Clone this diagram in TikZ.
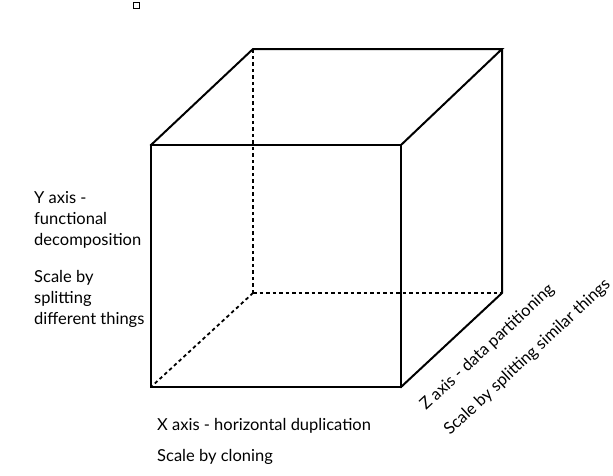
\documentclass[tikz,border=0pt]{standalone}
\usepackage{fontspec}
\setmainfont{Lato}
\begin{document}
\begin{tikzpicture}[x=1pt,y=-1pt,
  edge/.style={line width=2pt, line join=miter, line cap=rect},
  hidden/.style={line width=1.8pt, dash pattern=on 3.5pt off 3pt},
  lbl/.style={font=\fontsize{16.5}{21}\selectfont, inner sep=0pt, anchor=base west},
  zlbl/.style={lbl, rotate=43}]
\useasboundingbox (0,0) rectangle (613,475);
% front face
\coordinate (FTL) at (151,145);
\coordinate (FTR) at (401,145);
\coordinate (FBL) at (151,387);
\coordinate (FBR) at (401,387);
% back face
\coordinate (BTL) at (253,49);
\coordinate (BTR) at (502,49);
\coordinate (BBL) at (253,293);
\coordinate (BBR) at (502,293);
% small square marker
\node (marker) [draw, line width=1pt, minimum size=6pt, inner sep=0pt] at (136,5) {};
% visible edges
\draw[edge] (FTL) -- (FTR) -- (FBR) -- (FBL) -- cycle;
\draw[edge] (FTL) -- (BTL) -- (BTR) -- (FTR);
\draw[edge] (BTR) -- (BBR) -- (FBR);
% hidden edges
\draw[hidden] (BBL) -- (BTL);
\draw[hidden] (BBL) -- (BBR);
\draw[hidden] (BBL) -- (FBL);
% labels
\node[lbl] (y1) at (34,203.5) {Y axis -};
\node[lbl] (y2) at (34,224.5) {functional};
\node[lbl] (y3) at (34,245.5) {decomposition};
\node[lbl] (s1) at (34,282.5) {Scale by};
\node[lbl] (s2) at (34,303.5) {splitting};
\node[lbl] (s3) at (34,324.5) {different things};
\node[lbl] (x1) at (157,430.5) {X axis - horizontal duplication};
\node[lbl] (x2) at (157,461.5) {Scale by cloning};
\node[zlbl] (z1) at (426,411) {Z axis - data partitioning};
\node[zlbl] (z2) at (450,436) {Scale by splitting similar things};
\end{tikzpicture}
\end{document}
